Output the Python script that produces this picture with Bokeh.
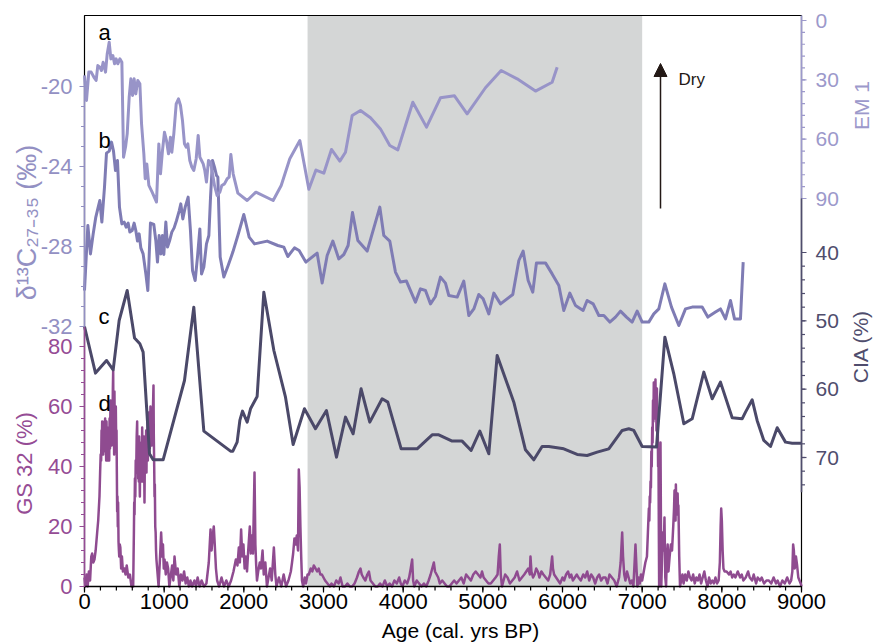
import math
from bokeh.plotting import figure
from bokeh.models import Range1d, BoxAnnotation, Arrow, NormalHead
from bokeh.core.properties import value
from bokeh.embed import file_html
from bokeh.resources import INLINE

# ---------------- data ----------------
# a: EM1 (right axis, reversed)
em1_age = [0, 25, 54, 84, 117, 146, 167, 192, 213, 234,
           264, 285, 310, 331, 356, 377, 397, 418, 444, 469,
           490, 515, 536, 561, 582, 603, 623, 644, 669, 695,
           716, 745, 762, 782, 808, 849, 904, 933, 954, 979,
           1004, 1029, 1054, 1079, 1096, 1121, 1151, 1180, 1205, 1230,
           1255, 1276, 1297, 1322, 1347, 1372, 1402, 1427, 1448, 1469,
           1490, 1510, 1531, 1556, 1582, 1607, 1632, 1665, 1699, 1724,
           1757, 1791, 1816, 1837, 1866, 1925, 2042, 2151, 2368, 2469,
           2577, 2703, 2816, 2905, 3004, 3100, 3205, 3276, 3360, 3464,
           3590, 3715, 3832, 3933, 4029, 4121, 4293, 4468, 4644, 4803,
           5033, 5230, 5431, 5661, 5870, 5933]
em1_val = [27.8, 40.4, 26.1, 26.1, 28.6, 30.3, 22.8, 23.6, 25.3, 21.1,
           26.1, 16.9, 11.0, 19.4, 17.7, 21.9, 19.4, 21.9, 19.4, 21.1,
           69.1, 64.0, 57.3, 38.8, 29.5, 37.9, 29.5, 37.1, 30.3, 32.0,
           52.2, 67.4, 80.0, 72.5, 83.4, 86.8, 91.8, 62.4, 77.5, 65.7,
           56.5, 60.7, 67.4, 59.0, 66.6, 57.3, 42.1, 39.6, 43.0, 50.6,
           62.4, 64.0, 62.4, 70.8, 74.1, 75.8, 69.9, 58.1, 69.1, 70.8,
           72.5, 75.8, 81.7, 70.8, 71.6, 77.5, 83.4, 88.5, 86.8, 83.4,
           82.6, 80.0, 79.2, 67.7, 77.5, 87.3, 91.0, 86.8, 91.0, 83.4,
           69.9, 60.7, 85.3, 75.6, 77.2, 65.2, 71.1, 66.6, 48.0, 45.5,
           49.2, 54.8, 63.2, 65.4, 53.1, 41.3, 53.9, 39.1, 38.1, 47.2,
           34.0, 25.3, 29.5, 35.7, 31.2, 23.6]

# b: d13C27-35 (left axis)
d13c_age = [0, 42, 75, 109, 142, 172, 192, 218, 251, 276,
            310, 339, 364, 389, 414, 439, 469, 498, 523, 548,
            569, 598, 623, 644, 665, 686, 707, 736, 770, 795,
            828, 870, 895, 916, 937, 958, 979, 996, 1021, 1042,
            1067, 1096, 1125, 1155, 1188, 1209, 1234, 1264, 1301, 1330,
            1356, 1389, 1418, 1448, 1469, 1498, 1531, 1561, 1582, 1607,
            1632, 1657, 1674, 1703, 1749, 1803, 1862, 1925, 2000, 2067,
            2134, 2293, 2427, 2502, 2552, 2636, 2694, 2778, 2920, 2983,
            3046, 3117, 3192, 3255, 3309, 3364, 3431, 3548, 3707, 3757,
            3832, 3903, 3966, 4041, 4154, 4217, 4280, 4343, 4405, 4468,
            4531, 4573, 4678, 4761, 4824, 4887, 4949, 5004, 5075, 5138,
            5222, 5376, 5452, 5506, 5569, 5627, 5673, 5786, 5870, 5954,
            6016, 6092, 6163, 6259, 6309, 6385, 6456, 6519, 6594, 6665,
            6728, 6803, 6874, 6937, 7000, 7083, 7146, 7209, 7285, 7368,
            7460, 7544, 7628, 7753, 7824, 7920, 7983, 8046, 8109, 8159,
            8234, 8268]
d13c_val = [-30.2, -26.95, -28.37, -27.37, -26.53, -26.03, -25.7, -26.78, -25.03, -23.33,
            -23.23, -22.78, -23.23, -24.2, -23.7, -26.03, -26.87, -26.78, -27.03, -26.83,
            -27.28, -27.2, -26.83, -27.2, -27.73, -27.37, -28.07, -28.37, -29.37, -30.2,
            -26.83, -26.9, -27.7, -28.78, -27.45, -28.37, -27.45, -28.4, -26.78, -28.03,
            -27.73, -27.28, -27.07, -26.7, -26.23, -25.87, -26.62, -26.03, -25.53, -27.2,
            -29.2, -29.7, -28.53, -27.12, -29.37, -29.03, -27.87, -27.45, -25.53, -23.7,
            -24.03, -24.45, -24.53, -28.53, -29.53, -28.95, -28.28, -27.45, -26.4, -27.53,
            -27.87, -27.73, -27.95, -28.03, -28.5, -28.07, -28.2, -28.78, -28.33, -29.83,
            -28.45, -27.73, -28.62, -28.4, -27.95, -26.3, -27.7, -28.23, -26.03, -27.45,
            -27.73, -29.28, -29.78, -29.73, -30.78, -30.12, -30.2, -30.87, -30.5, -29.53,
            -29.83, -30.45, -30.53, -29.73, -31.45, -31.12, -30.4, -30.62, -31.37, -30.33,
            -30.87, -30.4, -28.7, -28.23, -29.7, -30.28, -28.82, -28.82, -29.37, -29.95,
            -31.2, -30.33, -30.95, -31.2, -30.7, -30.87, -31.45, -31.45, -31.78, -31.53,
            -31.23, -31.53, -31.78, -31.23, -31.78, -31.78, -31.37, -31.12, -29.87, -31.03,
            -31.95, -31.12, -31.03, -31.03, -31.53, -31.28, -31.12, -31.62, -30.7, -31.62,
            -31.62, -28.78]

# c: CIA (right axis, reversed)
cia_age = [0, 138, 276, 360, 435, 536, 628, 695, 736, 816,
           862, 987, 1255, 1372, 1498, 1833, 1862, 1916, 1950, 1983,
           2042, 2084, 2167, 2251, 2377, 2523, 2619, 2761, 2899, 3037,
           3163, 3276, 3372, 3472, 3581, 3736, 3807, 3975, 4175, 4364,
           4447, 4615, 4740, 4853, 4962, 5075, 5180, 5389, 5535, 5640,
           5744, 5828, 6016, 6184, 6309, 6435, 6581, 6749, 6832, 6895,
           7000, 7180, 7285, 7397, 7523, 7628, 7774, 7879, 7983, 8130,
           8255, 8297, 8381, 8443, 8527, 8611, 8695, 8799, 8883, 9000]
cia_val = [50.83, 57.65, 55.8, 57.17, 49.95, 45.56, 52.5, 53.36, 54.58, 69.46,
           70.34, 70.34, 58.73, 48.0, 66.14, 69.07, 69.07, 67.75, 64.58, 63.21,
           64.83, 62.87, 61.07, 45.8, 54.34, 61.17, 68.1, 62.87, 65.8, 63.12,
           69.95, 64.09, 66.53, 59.95, 64.82, 61.41, 61.9, 68.73, 68.73, 66.68,
           66.68, 67.6, 67.6, 68.97, 66.14, 69.46, 55.07, 61.9, 68.87, 70.34,
           68.39, 68.39, 68.73, 69.56, 69.7, 69.22, 68.73, 66.04, 65.8, 66.04,
           68.39, 68.48, 52.39, 57.75, 65.07, 64.34, 57.51, 61.41, 58.97, 64.19,
           64.34, 63.36, 61.56, 64.58, 67.51, 68.39, 65.65, 67.75, 67.9, 67.9]

# d: GS 32 (left axis) as (age, %) readings
gs_points = [
    (0, 3), (12, 0), (25, 4), (40, 0), (55, 5), (70, 2), (85, 10), (96, 11), (110, 8), (125, 9),
    (140, 12), (159, 18), (172, 22), (180, 26), (188, 30), (196, 38), (203, 44), (209, 42),
    (214, 52), (218, 48), (222, 55), (226, 50), (231, 54), (235, 44), (240, 52), (245, 47),
    (250, 55), (255, 49), (259, 56), (264, 45), (268, 50), (272, 42), (276, 55), (281, 46),
    (285, 52), (290, 42), (295, 50), (300, 45), (305, 53), (310, 42), (315, 56), (320, 46),
    (326, 62), (330, 50), (335, 55), (340, 47), (345, 60), (350, 52), (356, 66), (360, 72),
    (364, 50), (368, 58), (372, 44), (376, 65), (381, 48), (385, 55), (389, 45), (393, 60),
    (398, 48), (402, 52), (406, 38), (410, 25), (414, 30), (418, 20), (422, 28), (427, 15),
    (432, 12), (436, 10), (443, 14), (450, 13), (460, 6), (470, 10), (482, 5), (500, 6),
    (515, 4), (530, 7), (550, 3), (570, 4), (590, 0), (611, 0), (616, 10), (620, 18),
    (624, 28), (628, 24), (633, 36), (638, 30), (643, 42), (649, 38), (655, 50), (661, 55),
    (665, 42), (670, 48), (674, 36), (678, 44), (682, 35), (686, 50), (690, 38), (695, 30),
    (699, 44), (703, 36), (707, 46), (711, 35), (716, 48), (720, 40), (724, 53), (729, 42),
    (733, 35), (738, 48), (742, 40), (747, 50), (753, 28), (758, 44), (762, 38), (766, 48),
    (770, 42), (774, 52), (778, 38), (782, 50), (786, 45), (791, 55), (795, 42), (800, 50),
    (805, 58), (810, 45), (815, 52), (820, 46), (828, 60), (833, 50), (838, 55), (844, 47),
    (850, 56), (855, 48), (860, 60), (866, 67), (870, 50), (875, 40), (879, 30), (883, 34),
    (888, 20), (893, 18), (898, 12), (903, 9), (915, 5), (930, 0), (945, 8), (962, 18),
    (975, 10), (985, 14), (995, 6), (1005, 9), (1020, 4), (1035, 8), (1050, 6), (1065, 0),
    (1080, 3), (1100, 7), (1115, 2), (1130, 10), (1150, 4), (1170, 6), (1190, 0), (1210, 4),
    (1230, 2), (1250, 5), (1270, 1), (1290, 3), (1310, 0), (1330, 2), (1350, 0), (1380, 2),
    (1400, 0), (1420, 3), (1445, 0), (1470, 2), (1500, 0), (1530, 1), (1560, 8), (1582, 19),
    (1595, 12), (1610, 17), (1623, 20), (1635, 14), (1650, 6), (1665, 2), (1690, 0), (1720, 3),
    (1750, 0), (1780, 2), (1810, 0), (1840, 2), (1870, 5), (1900, 9), (1920, 7), (1937, 13),
    (1950, 8), (1966, 19), (1980, 10), (1995, 14), (2010, 6), (2025, 10), (2040, 5), (2055, 12),
    (2075, 20), (2088, 11), (2100, 17), (2115, 11), (2134, 38), (2145, 14), (2155, 7), (2165, 2),
    (2180, 5), (2200, 8), (2215, 6), (2235, 12), (2250, 4), (2270, 8), (2290, 0), (2310, 3),
    (2330, 6), (2350, 2), (2377, 13), (2395, 4), (2410, 0), (2440, 3), (2470, 0), (2500, 4),
    (2530, 0), (2560, 2), (2590, 5), (2605, 8), (2619, 11), (2635, 16), (2650, 14), (2665, 17),
    (2680, 12), (2690, 39), (2700, 33), (2710, 20), (2720, 10), (2730, 2), (2745, 0), (2765, 3),
    (2780, 1), (2800, 4), (2816, 4), (2840, 6), (2860, 5), (2878, 7), (2900, 6), (2920, 5),
    (2940, 6), (2960, 4), (2980, 4), (3000, 3), (3020, 2), (3050, 1), (3080, 0), (3100, 1),
    (3130, 0), (3160, 2), (3190, 1), (3213, 3), (3240, 0), (3270, 0), (3300, 1), (3330, 0),
    (3360, 0), (3390, 1), (3420, 3), (3445, 5), (3464, 6), (3480, 4), (3500, 3), (3525, 2),
    (3550, 4), (3570, 5), (3590, 2), (3620, 1), (3650, 0), (3680, 0), (3710, 1), (3740, 0),
    (3770, 2), (3800, 0), (3830, 1), (3860, 0), (3890, 2), (3920, 1), (3950, 3), (3970, 1),
    (3990, 0), (4020, 2), (4050, 1), (4075, 3), (4095, 6), (4113, 9), (4125, 2), (4140, 0),
    (4170, 2), (4200, 1), (4230, 0), (4260, 1), (4290, 0), (4320, 2), (4345, 4), (4365, 6),
    (4385, 8), (4400, 5), (4420, 4), (4440, 3), (4460, 1), (4490, 2), (4520, 1), (4550, 0),
    (4580, 0), (4610, 1), (4640, 2), (4670, 1), (4700, 2), (4730, 3), (4760, 1), (4790, 4),
    (4820, 3), (4850, 2), (4880, 4), (4910, 5), (4940, 4), (4970, 3), (4990, 5), (5010, 3),
    (5040, 2), (5070, 1), (5100, 1), (5130, 2), (5160, 3), (5185, 4), (5200, 10), (5213, 14),
    (5225, 4), (5240, 0), (5260, 2), (5280, 4), (5310, 3), (5340, 1), (5370, 2), (5400, 3),
    (5430, 5), (5460, 2), (5490, 3), (5520, 4), (5545, 5), (5570, 6), (5590, 4), (5598, 10),
    (5610, 5), (5630, 3), (5650, 4), (5670, 6), (5690, 5), (5710, 3), (5735, 5), (5760, 4),
    (5790, 3), (5820, 2), (5845, 4), (5858, 7), (5870, 10), (5880, 6), (5895, 4), (5920, 3),
    (5945, 2), (5970, 1), (6000, 3), (6020, 2), (6045, 4), (6070, 5), (6090, 3), (6110, 4),
    (6130, 2), (6155, 3), (6180, 4), (6200, 3), (6230, 2), (6260, 4), (6285, 3), (6310, 5),
    (6335, 2), (6360, 4), (6385, 3), (6410, 1), (6435, 3), (6460, 4), (6485, 2), (6510, 3),
    (6540, 3), (6565, 1), (6590, 4), (6620, 3), (6650, 2), (6680, 0), (6710, 3), (6730, 8),
    (6749, 18), (6760, 10), (6775, 4), (6790, 2), (6810, 5), (6830, 3), (6850, 1), (6870, 2),
    (6890, 0), (6905, 8), (6916, 14), (6929, 6), (6940, 0), (6955, 3), (6970, 1), (6985, 4),
    (7000, 2), (7020, 5), (7040, 8), (7060, 10), (7072, 18), (7084, 26), (7090, 22), (7095, 30),
    (7100, 28), (7105, 35), (7110, 33), (7115, 45), (7120, 40), (7126, 53), (7131, 48),
    (7136, 62), (7141, 55), (7146, 68), (7151, 58), (7156, 65), (7161, 56), (7167, 69),
    (7171, 58), (7175, 64), (7180, 52), (7185, 66), (7190, 50), (7195, 56), (7200, 40),
    (7205, 44), (7209, 20), (7213, 0), (7222, 12), (7230, 48), (7240, 0), (7250, 10), (7260, 18),
    (7270, 12), (7280, 23), (7290, 3), (7300, 0), (7310, 10), (7320, 14), (7330, 5), (7345, 10),
    (7360, 14), (7375, 12), (7390, 20), (7400, 26), (7406, 32), (7411, 26), (7415, 28),
    (7419, 22), (7423, 34), (7428, 27), (7433, 30), (7439, 24), (7445, 31), (7450, 25),
    (7455, 27), (7465, 10), (7475, 0), (7490, 2), (7505, 4), (7520, 1), (7540, 4), (7560, 2),
    (7580, 5), (7600, 3), (7620, 2), (7640, 4), (7660, 1), (7680, 3), (7700, 2), (7720, 4),
    (7740, 1), (7760, 3), (7780, 5), (7800, 2), (7820, 0), (7840, 3), (7860, 1), (7880, 2),
    (7900, 1), (7920, 3), (7940, 1), (7960, 2), (7975, 8), (7985, 20), (7992, 26), (8000, 22),
    (8010, 12), (8020, 6), (8035, 5), (8060, 5), (8090, 4), (8110, 5), (8130, 3), (8150, 4),
    (8170, 3), (8200, 5), (8230, 3), (8250, 4), (8270, 2), (8300, 3), (8330, 5), (8350, 3),
    (8380, 2), (8400, 4), (8430, 1), (8450, 3), (8480, 2), (8500, 3), (8530, 1), (8560, 2),
    (8590, 2), (8620, 1), (8650, 3), (8680, 1), (8700, 2), (8730, 0), (8760, 2), (8790, 1),
    (8820, 3), (8850, 1), (8870, 2), (8885, 5), (8895, 14), (8904, 12), (8915, 6), (8930, 10),
    (8945, 7), (8960, 3), (8975, 2), (8990, 1), (9000, 0),
]
gs_age = [a for a, _ in gs_points]
gs_val = [v for _, v in gs_points]

x_ticks = [0, 1000, 2000, 3000, 4000, 5000, 6000, 7000, 8000, 9000]
x_minor = list(range(0, 9001, 200))
d13c_ticks = [-32, -28, -24, -20]
d13c_minor = list(range(-32, -19))
gs_ticks = [0, 20, 40, 60, 80]
gs_minor = list(range(0, 81, 4))
em1_ticks = [0, 30, 60, 90]
em1_minor = list(range(0, 91, 6))
cia_ticks = [40, 50, 60, 70]
cia_minor = list(range(40, 75, 2))
shade_start, shade_end = 2800, 7000

# ---------------- style / layout ----------------
FONT = "Liberation Sans"
C_EM1 = "#9894c8"
C_D13C = "#7f7cb4"
C_CIA = "#4b4969"
C_GS = "#8f4b90"
C_EM1_AX = "#9c99cb"
C_D13C_AX = "#9390c3"
C_GS_AX = "#954c95"
C_CIA_AX = "#4f4d6d"
C_TXT = "#231815"

W, H = 875, 643
FL, FR, FT, FB = 84, 801, 15, 586          # plotting box, screen px
XPX = (x_ticks[-1] - x_ticks[0]) / (FR - FL)  # age units per px

def yrange(v_at_a, pa, v_at_b, pb):
    k = (v_at_b - v_at_a) / (pb - pa)
    return Range1d(v_at_a + (H - pa) * k, v_at_a + (0 - pa) * k)

p = figure(width=W, height=H, output_backend="svg", toolbar_location=None,
           x_range=Range1d(x_ticks[0] - FL * XPX, x_ticks[-1] + (W - FR) * XPX),
           y_range=Range1d(FB - H, FB),
           x_axis_location=None, y_axis_location=None, title=None,
           min_border=0, min_border_left=0, min_border_right=0,
           min_border_top=0, min_border_bottom=0)
p.extra_y_ranges = {
    "d13c": yrange(-20, 86, -32, 326),
    "em1": yrange(0, 20, 90, 198),
    "cia": yrange(40, 252, 70, 457),
    "gs": yrange(0, 586, 80, 346),
}
p.xgrid.visible = False
p.ygrid.visible = False
p.outline_line_color = None
p.background_fill_color = "white"
p.border_fill_color = "white"

BOX_TOP = FB - FT
p.add_layout(BoxAnnotation(left=shade_start, right=shade_end, bottom=0, top=BOX_TOP,
                           fill_color="#d4d6d6", fill_alpha=1.0, line_alpha=0, level="underlay"))

# frame box (black)
p.quad(left=[x_ticks[0]], right=[x_ticks[-1]], bottom=[0], top=[BOX_TOP],
       fill_alpha=0, line_color="black", line_width=1.2)

# series
kw = dict(line_width=3, line_join="round")
p.line(gs_age, gs_val, y_range_name="gs", line_color=C_GS, line_width=2.5, line_join="round")
p.line(cia_age, cia_val, y_range_name="cia", line_color=C_CIA, **kw)
p.line(d13c_age, d13c_val, y_range_name="d13c", line_color=C_D13C, **kw)
p.line(em1_age, em1_val, y_range_name="em1", line_color=C_EM1, **kw)

def txt(x, y, t, color, size, rng="default", angle=0.0, align="center", baseline="middle"):
    p.text(x=x, y=y, text=t, y_range_name=rng, angle=angle, text_color=color,
           text_font=value(FONT), text_font_size=value(size),
           text_align=align, text_baseline=baseline)

# x axis
n = len(x_minor)
p.segment(x0=[x_ticks[0]], y0=[0], x1=[x_ticks[-1]], y1=[0], line_color="black", line_width=1.5)
p.segment(x0=x_minor, y0=[0] * n, x1=x_minor, y1=[-4] * n, line_color="black", line_width=1.2)
p.segment(x0=x_ticks, y0=[0] * len(x_ticks), x1=x_ticks, y1=[-6] * len(x_ticks),
          line_color="black", line_width=1.2)
txt(x_ticks, [-7] * len(x_ticks), [str(t) for t in x_ticks], "black", "22px",
    baseline="top")

def y_axis(rng, x0, sign, lo, hi, majors, minors, color, size, offset):
    p.segment(x0=[x0], y0=[lo], x1=[x0], y1=[hi], y_range_name=rng,
              line_color=color, line_width=1.6)
    for vals, ln in ((minors, 3.5), (majors, 5)):
        m = len(vals)
        p.segment(x0=[x0] * m, y0=vals, x1=[x0 + sign * ln * XPX] * m, y1=vals,
                  y_range_name=rng, line_color=color, line_width=1.2)
    txt([x0 + sign * offset * XPX] * len(majors), majors, [str(v) for v in majors],
        color, size, rng=rng, align="right" if sign < 0 else "left")

y_axis("d13c", x_ticks[0], -1, -32, -19.55, d13c_ticks, d13c_minor, C_D13C_AX, "22px", 12)
y_axis("gs", x_ticks[0], -1, 0, 86.5, gs_ticks, gs_minor, C_GS_AX, "22px", 12)
y_axis("em1", x_ticks[-1], 1, 90, -2.53, em1_ticks, em1_minor, C_EM1_AX, "21px", 14)
y_axis("cia", x_ticks[-1], 1, 32.1, 75.1, cia_ticks, cia_minor, C_CIA_AX, "21px", 14)

# axis titles
def sx(px):
    return x_ticks[0] + (px - FL) * XPX

def sy(py):
    return FB - py

R = math.pi / 2
txt([sx(26)], [sy(222)], ["δ¹³C₂₇₋₃₅ (‰)"], C_D13C_AX, "27px", angle=R)
txt([sx(24)], [sy(463)], ["GS 32 (%)"], C_GS_AX, "22px", angle=R)
txt([sx(861)], [sy(105)], ["EM 1"], C_EM1_AX, "21px", angle=R)
txt([sx(860)], [sy(346)], ["CIA (%)"], C_CIA_AX, "21px", angle=R)
txt([sx(460)], [sy(630)], ["Age (cal. yrs BP)"], "black", "21px")

# panel letters
txt([sx(98)] * 4, [sy(31.5), sy(140), sy(315.5), sy(403)], ["a", "b", "c", "d"], "black", "22px",
    align="left")

# arrow + Dry
p.add_layout(Arrow(end=NormalHead(size=13, fill_color=C_TXT, line_color=C_TXT),
                   x_start=sx(660), y_start=sy(208), x_end=sx(660), y_end=sy(63),
                   line_color=C_TXT, line_width=1.5))
txt([sx(678)], [sy(78.5)], ["Dry"], C_TXT, "17px", align="left")

open("out.html", "w").write(file_html(p, INLINE))
